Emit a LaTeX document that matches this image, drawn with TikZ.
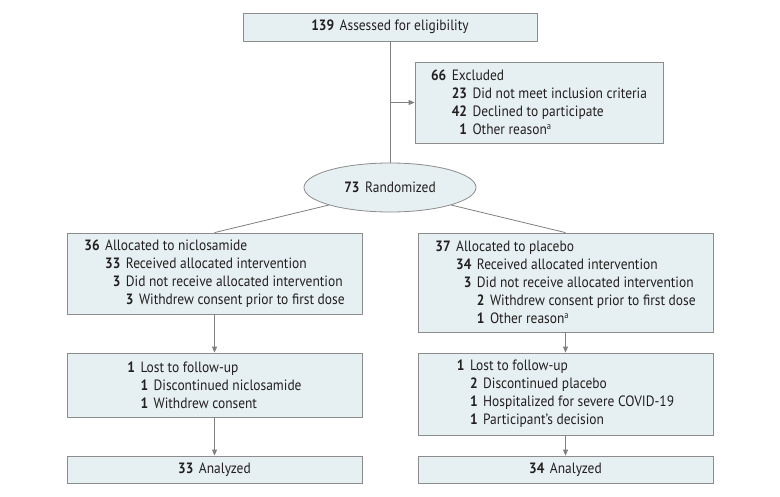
\documentclass[tikz,border=0pt]{standalone}
\usepackage{fontspec}
\setmainfont[FakeStretch=0.9]{PT Sans}
\usetikzlibrary{arrows.meta,shapes.geometric}
\definecolor{boxfill}{HTML}{E6F0F2}
\definecolor{boxline}{HTML}{8C8C8C}
\definecolor{conn}{HTML}{808080}
\definecolor{txt}{HTML}{231F20}
\newlength\numA
\newlength\numB
\newlength\gapsep
\newlength\indA
\newlength\indB
\AtBeginDocument{%
  \settowidth{\numA}{\fontsize{15}{18}\selectfont\textbf{00}}%
  \settowidth{\numB}{\fontsize{15}{18}\selectfont\textbf{0}}%
  \setlength{\gapsep}{5.5bp}%
  \setlength{\indA}{\dimexpr\numA+\gapsep\relax}%
  \setlength{\indB}{\dimexpr\numB+\gapsep\relax}}
\newcommand\rw[4]{\hspace*{#1}\makebox[#2][r]{\textbf{#3}}\hspace{\gapsep}#4}
\newcommand\supa{\textsuperscript{\fontsize{9.5}{9.5}\selectfont a}}
\begin{document}
\begin{tikzpicture}[x=1bp,y=-1bp,
  every node/.style={text=txt,font=\fontsize{15}{18}\selectfont},
  flowbox/.style={draw=boxline,fill=boxfill,line width=0.8bp,rectangle,align=left,inner sep=0pt},
  conline/.style={draw=conn,line width=0.8bp},
  conarrow/.style={conline,-{Triangle[length=6bp,width=5bp]}}]
\useasboundingbox (0,0) rectangle (780,497);
\fill[white] (0,0) rectangle (780,497);

\node[flowbox,minimum width=294bp,minimum height=28bp] (top) at (390,27)
  {\textbf{139}\hspace{\gapsep}Assessed for eligibility};

\node[flowbox,minimum width=248bp,minimum height=81bp] (excl) at (539,102.5)
  {\rw{0pt}{\numA}{66}{Excluded}\\
   \rw{\indA}{\numA}{23}{Did not meet inclusion criteria}\\
   \rw{\indA}{\numA}{42}{Declined to participate}\\
   \rw{\indA}{\numA}{1}{Other reason\supa}};

\node[ellipse,draw=boxline,fill=boxfill,line width=0.8bp,minimum width=172bp,minimum height=49bp,inner sep=0pt] (rand) at (390,187.5)
  {\textbf{73}\hspace{\gapsep}Randomized};

\node[flowbox,minimum width=295bp,minimum height=81bp] (lb1) at (214.5,273.5)
  {\rw{0pt}{\numA}{36}{Allocated to niclosamide}\\
   \rw{\indA}{\numA}{33}{Received allocated intervention}\\
   \rw{\indA}{\numA}{3}{Did not receive allocated intervention}\\
   \rw{\dimexpr2\indA\relax}{\numB}{3}{Withdrew consent prior to first dose}};

\node[flowbox,minimum width=295bp,minimum height=64bp] (lb2) at (214.5,385)
  {\rw{0pt}{\numB}{1}{Lost to follow-up}\\
   \rw{\indB}{\numB}{1}{Discontinued niclosamide}\\
   \rw{\indB}{\numB}{1}{Withdrew consent}};

\node[flowbox,minimum width=295bp,minimum height=27bp] (lb3) at (214.5,469.5)
  {\textbf{33}\hspace{\gapsep}Analyzed};

\node[flowbox,minimum width=295bp,minimum height=99bp] (rb1) at (565.5,282.5)
  {\rw{0pt}{\numA}{37}{Allocated to placebo}\\
   \rw{\indA}{\numA}{34}{Received allocated intervention}\\
   \rw{\indA}{\numA}{3}{Did not receive allocated intervention}\\
   \rw{\dimexpr2\indA\relax}{\numB}{2}{Withdrew consent prior to first dose}\\
   \rw{\dimexpr2\indA\relax}{\numB}{1}{Other reason\supa}};

\node[flowbox,minimum width=295bp,minimum height=82bp] (rb2) at (565.5,394)
  {\rw{0pt}{\numB}{1}{Lost to follow-up}\\
   \rw{\indB}{\numB}{2}{Discontinued placebo}\\
   \rw{\indB}{\numB}{1}{Hospitalized for severe COVID-19}\\
   \rw{\indB}{\numB}{1}{Participant’s decision}};

\node[flowbox,minimum width=295bp,minimum height=27bp] (rb3) at (565.5,469.5)
  {\textbf{34}\hspace{\gapsep}Analyzed};

\coordinate (branch) at (top.south |- excl.west);
\draw[conline] (top.south) -- (rand.north);
\draw[conarrow] (branch) -- (excl.west);
\draw[conline] (rand.196) -- (lb1.north);
\draw[conline] (rand.-16) -- (rb1.north);
\draw[conarrow] (lb1.south) -- (lb2.north);
\draw[conarrow] (lb2.south) -- (lb3.north);
\draw[conarrow] (rb1.south) -- (rb2.north);
\draw[conarrow] (rb2.south) -- (rb3.north);
\end{tikzpicture}
\end{document}
